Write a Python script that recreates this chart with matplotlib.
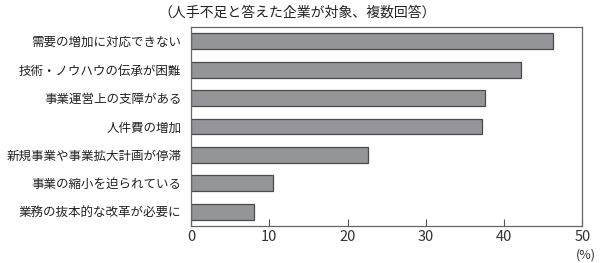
import matplotlib
matplotlib.use("Agg")
import matplotlib.pyplot as plt

plt.rcParams['font.family'] = ['Noto Sans CJK JP', 'DejaVu Sans']

labels = ['需要の増加に対応できない', '技術・ノウハウの伝承が困難', '事業運営上の支障がある',
          '人件費の増加', '新規事業や事業拡大計画が停滞', '事業の縮小を迫られている',
          '業務の抜本的な改革が必要に']
values = [46.2, 42.2, 37.6, 37.2, 22.6, 10.5, 8.1]
ticks = [0, 10, 20, 30, 40, 50]

fig = plt.figure(figsize=(6, 2.63), dpi=100)
ax = fig.add_axes([0.3185, 0.1407, 0.652, 0.7566])

ypos = list(range(len(labels)))
ax.barh(ypos, values, height=0.56, color='#939598', edgecolor='#4a4a4a', linewidth=0.9)
ax.set_ylim(len(labels) - 0.5, -0.5)
ax.set_xlim(0, 50)
ax.set_yticks(ypos)
ax.set_yticklabels(labels, fontsize=9, color='#222222')
ax.tick_params(axis='y', length=0, pad=7)
ax.set_xticks(ticks)
ax.set_xticklabels([str(t) for t in ticks], fontsize=10.5, color='#333333')
ax.tick_params(axis='x', direction='in', length=5, width=0.8, color='#555555', pad=3)

for s in ax.spines.values():
    s.set_color('#666666')
    s.set_linewidth(0.9)

fig.text(0.495, 0.953, '（人手不足と答えた企業が対象、複数回答）', ha='center', va='center',
         fontsize=10, color='#222222')
fig.text(0.977, 0.03, '(%)', ha='center', va='center', fontsize=9, color='#333333')

fig.savefig('out.png', dpi=100)
